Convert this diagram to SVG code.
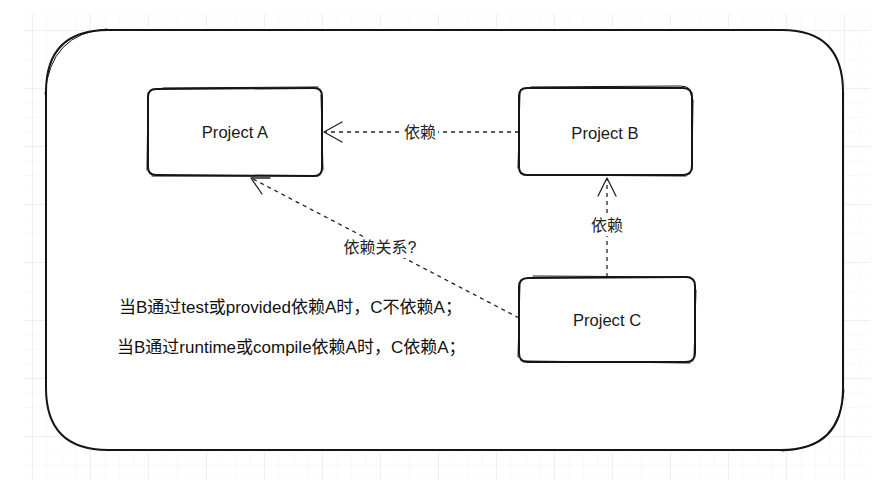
<svg xmlns="http://www.w3.org/2000/svg" width="896" height="480" viewBox="0 0 896 480">
  <defs>
    <pattern id="minor" x="32" y="30" width="14.5" height="14.5" patternUnits="userSpaceOnUse">
      <path d="M0,0 L0,14.5 M0,0 L14.5,0" fill="none" stroke="#f3f3f3" stroke-width="1"/>
    </pattern>
    <pattern id="major" x="32" y="30" width="58" height="58" patternUnits="userSpaceOnUse">
      <path d="M0,0 L0,58 M0,0 L58,0" fill="none" stroke="#e6e6e6" stroke-width="1"/>
    </pattern>
  </defs>
  <style>
    .sk { fill: none; stroke: #151515; stroke-width: 2; stroke-linecap: round; stroke-linejoin: round; }
    .sk2 { fill: none; stroke: #151515; stroke-width: 1; stroke-linecap: round; }
    .box { fill: #ffffff; }
    .dash { fill: none; stroke: #222; stroke-width: 1.3; stroke-dasharray: 4 4; }
    .head { fill: none; stroke: #222; stroke-width: 1.3; stroke-linecap: round; stroke-linejoin: round; }
    .lbl { font-family: "Liberation Sans", "Noto Sans CJK SC", sans-serif; font-size: 16px; fill: #222; text-anchor: middle; }
    .pname { font-family: "Liberation Sans", "Noto Sans CJK SC", sans-serif; font-size: 16.6px; fill: #1a1a1a; text-anchor: middle; }
    .txt { font-family: "Liberation Sans", "Noto Sans CJK SC", sans-serif; font-size: 17px; fill: #111; }
    .bg { fill: #ffffff; }
  </style>
  <rect width="896" height="480" fill="#ffffff"/>
  <rect x="24" y="14" width="846" height="466" fill="url(#minor)"/>
  <rect x="24" y="14" width="846" height="466" fill="url(#major)"/>

  <g id="frame">
    <path class="box" d="M108,30 L782,30 Q843,30 843,92 L843,388 Q843,450 781,450 L108,450 Q46,450 46,388 L46,92 Q46,30 108,30 Z"/>
    <path class="sk" d="M108,30 L782,30 Q843,30 843,92 L843,388 Q843,450 781,450 L108,450 Q46,450 46,388 L46,92 Q46,30 108,30 Z"/>
    <path class="sk2" d="M107,29 Q50,33 45,94 M782,451 Q840,449 844,390"/>
  </g>

  <g id="connectors">
    <g id="edge-b-a">
      <line class="dash" x1="519" y1="132" x2="325" y2="132"/>
      <path class="head" d="M342,122 L324,132 L342,142"/>
      <rect class="bg" x="402" y="122" width="36" height="20"/>
      <text class="lbl" x="420" y="138">依赖</text>
    </g>
    <g id="edge-c-b">
      <line class="dash" x1="607" y1="277" x2="607" y2="179"/>
      <path class="head" d="M598,196 L607,178 L616,196"/>
      <rect class="bg" x="589" y="215" width="36" height="21"/>
      <text class="lbl" x="607" y="231">依赖</text>
    </g>
    <g id="edge-c-a">
      <line class="dash" x1="519" y1="318" x2="252" y2="178.5"/>
      <path class="head" d="M262,194 L251,178 L270,178"/>
      <rect class="bg" x="343" y="237" width="74" height="21"/>
      <text class="lbl" x="380" y="253">依赖关系?</text>
    </g>
  </g>

  <g id="project-a">
    <path class="box" d="M156,89 L314,88 Q322,88 322,96 L322,168 Q322,176 314,176 L156,175 Q148,175 148,167 L148,97 Q148,89 156,89 Z"/>
    <path class="sk" d="M156,89 L314,88 Q322,88 322,96 L322,168 Q322,176 314,176 L156,175 Q148,175 148,167 L148,97 Q148,89 156,89 Z"/>
    <path class="sk2" d="M163,88 L318,87 M321,95 L323,170 M318,176 L152,176 M147,170 L148,93"/>
    <text class="pname" x="235" y="138">Project A</text>
  </g>

  <g id="project-b">
    <path class="box" d="M527,88 L683,88 Q692,88 692,97 L692,166 Q692,175 683,175 L527,175 Q519,175 519,167 L519,96 Q519,88 527,88 Z"/>
    <path class="sk" d="M527,88 L683,88 Q692,88 692,97 L692,166 Q692,175 683,175 L527,175 Q519,175 519,167 L519,96 Q519,88 527,88 Z"/>
    <path class="sk2" d="M531,87 L680,86 Q692,86 691,95 M693,100 L692,170 M686,176 L524,175 M518,168 L520,92"/>
    <text class="pname" x="605" y="139">Project B</text>
  </g>

  <g id="project-c">
    <path class="box" d="M528,278 L686,277 Q695,277 695,286 L695,353 Q695,362 686,362 L528,362 Q519,362 519,353 L519,287 Q519,278 528,278 Z"/>
    <path class="sk" d="M528,278 L686,277 Q695,277 695,286 L695,353 Q695,362 686,362 L528,362 Q519,362 519,353 L519,287 Q519,278 528,278 Z"/>
    <path class="sk2" d="M533,276 L690,277 M696,290 L694,358 M690,363 L524,361 M518,357 L520,283"/>
    <text class="pname" x="607" y="326">Project C</text>
  </g>

  <g id="notes">
    <text class="txt" x="119" y="313">当B通过test或provided依赖A时，C不依赖A；</text>
    <text class="txt" x="117" y="353">当B通过runtime或compile依赖A时，C依赖A；</text>
  </g>
</svg>
